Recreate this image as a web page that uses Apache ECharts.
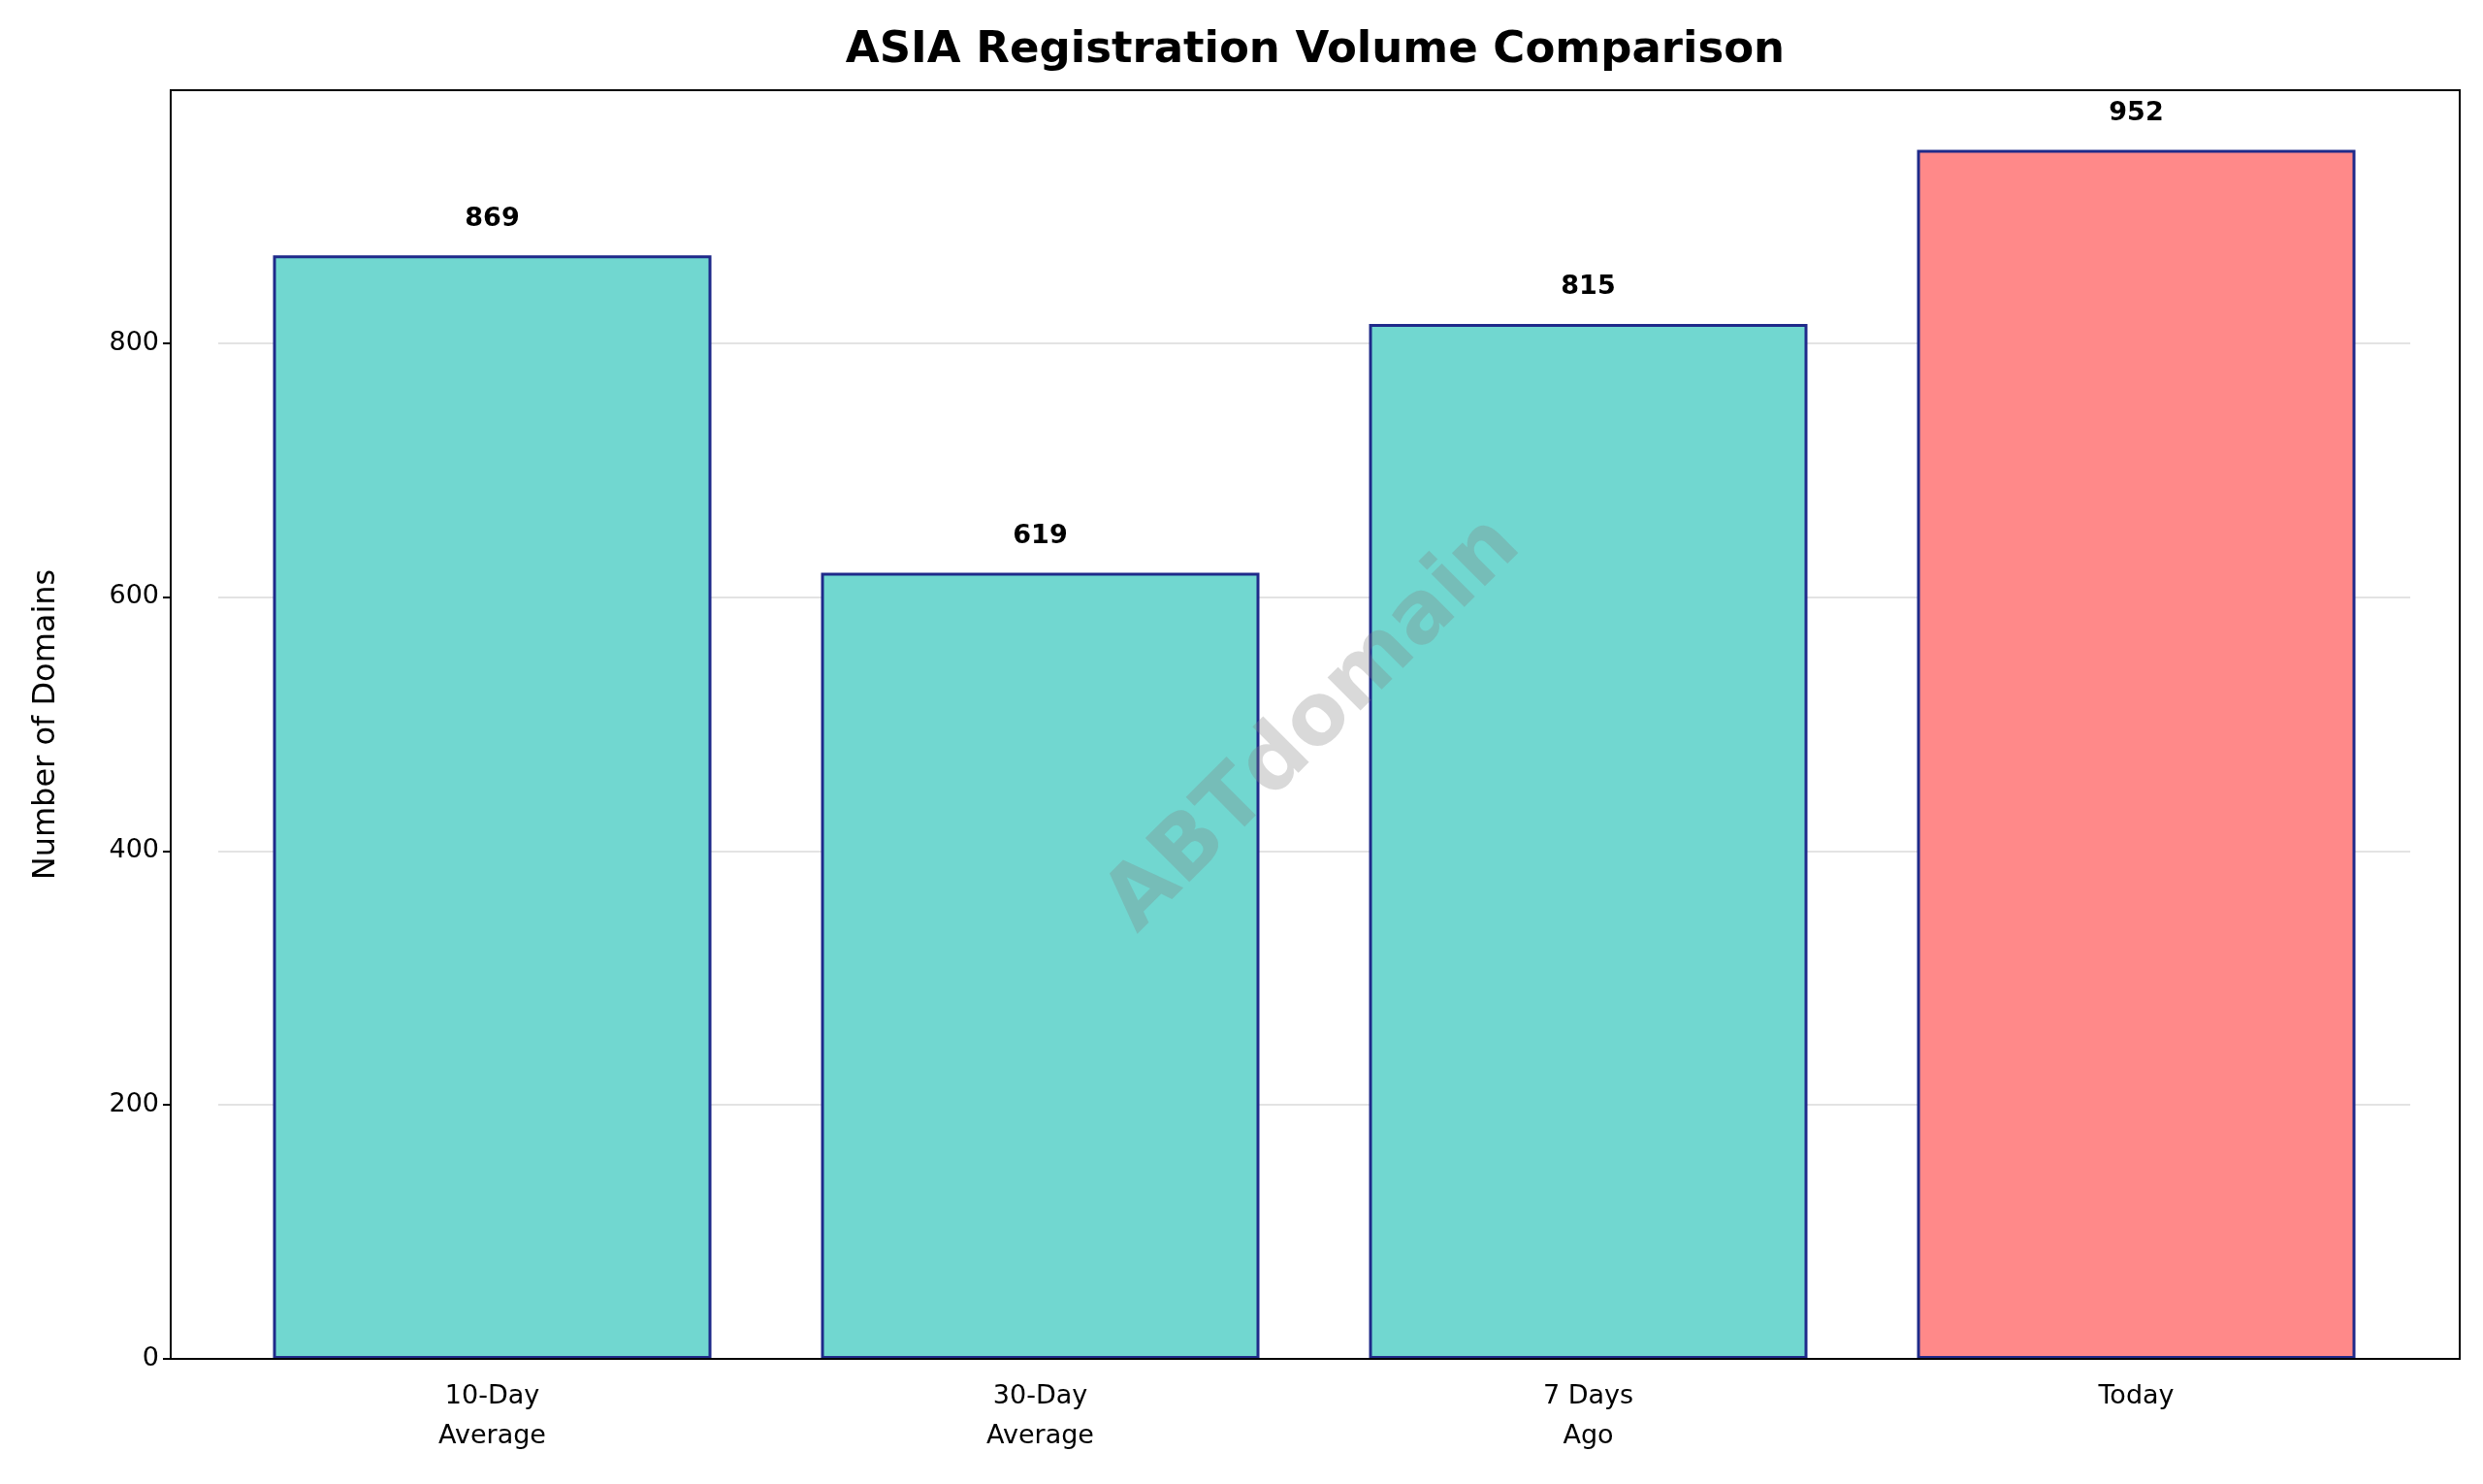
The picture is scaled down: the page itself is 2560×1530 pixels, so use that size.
<!DOCTYPE html>
<html><head><meta charset="utf-8">
<script src="https://cdn.jsdelivr.net/npm/echarts@6/dist/echarts.min.js"></script>
<style>html,body{margin:0;padding:0;background:#fff}#c{width:2560px;height:1530px}</style>
</head><body><div id="c"></div>
<script>
const categories = ['10-Day\nAverage', '30-Day\nAverage', '7 Days\nAgo', 'Today'];
const values = [869, 619, 815, 952];
const barColors = ['#71d7d0', '#71d7d0', '#71d7d0', '#ff8989'];
const F = 'DejaVu Sans';
const chart = echarts.init(document.getElementById('c'));
chart.setOption({
  animation: false,
  grid: {left: 225, right: 75, top: 93, bottom: 129},
  xAxis: {type: 'category', data: categories,
    axisLine: {show: false},
    axisTick: {alignWithLabel: true, length: 8, lineStyle: {color: '#000', width: 2}},
    axisLabel: {fontFamily: F, fontSize: 27, color: '#000', lineHeight: 41, margin: 18}},
  yAxis: {type: 'value', min: 0, max: 999, interval: 200, offset: 49,
    name: 'Number of Domains', nameLocation: 'middle', nameGap: 112,
    nameTextStyle: {fontFamily: F, fontSize: 32, color: '#000'},
    axisLine: {show: false},
    axisTick: {show: true, length: 8, lineStyle: {color: '#000', width: 2}},
    axisLabel: {fontFamily: F, fontSize: 27, color: '#000', margin: 12, showMaxLabel: false},
    splitLine: {lineStyle: {color: '#e3e3e3', width: 2}}},
  series: [{type: 'bar', barWidth: '80%',
    data: values.map((v, i) => ({value: v, itemStyle: {color: barColors[i]}})),
    itemStyle: {borderColor: '#1f2a8a', borderWidth: 3},
    label: {show: true, position: 'top', distance: 24, fontFamily: F, fontWeight: 'bold', fontSize: 27, color: '#000'}}],
  graphic: [
    {type: 'rect', shape: {x: 176, y: 93, width: 2360, height: 1308}, style: {fill: 'none', stroke: '#000', lineWidth: 2}, z: 100},
    {type: 'text', x: 1356, y: 52, style: {text: 'ASIA Registration Volume Comparison', font: 'bold 45px "DejaVu Sans"', fill: '#000', textAlign: 'center', textVerticalAlign: 'middle'}},
    {type: 'text', x: 1355, y: 748, rotation: Math.PI / 4, style: {text: 'ABTdomain', font: 'bold 88px "DejaVu Sans"', fill: 'rgba(128,128,128,0.3)', textAlign: 'center', textVerticalAlign: 'middle'}, z: 50}
  ]
});
</script></body></html>
